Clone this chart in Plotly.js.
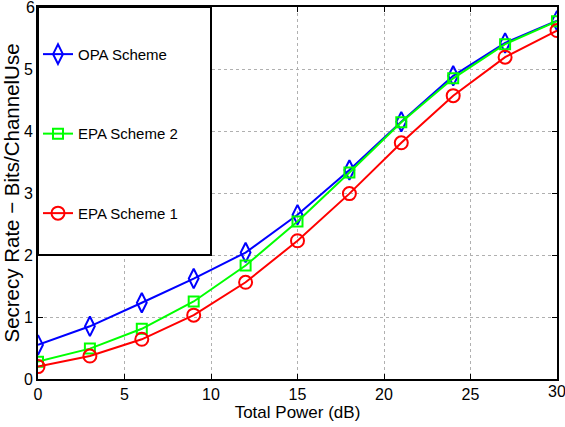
<!DOCTYPE html>
<html>
<head>
<meta charset="utf-8">
<script src="https://cdn.plot.ly/plotly-3.0.1.min.js"></script>
<style>html,body{margin:0;padding:0;background:#fff}#chart{width:565px;height:427px}</style>
</head>
<body>
<div id="chart"></div>
<script>
var totalPower = [0, 3, 6, 9, 12, 15, 18, 21, 24, 27, 30];
var opaScheme = [0.55, 0.85, 1.23, 1.62, 2.04, 2.65, 3.37, 4.15, 4.89, 5.42, 5.78];
var epaScheme2 = [0.28, 0.49, 0.81, 1.25, 1.83, 2.54, 3.33, 4.14, 4.85, 5.40, 5.77];
var epaScheme1 = [0.20, 0.37, 0.64, 1.03, 1.56, 2.23, 2.99, 3.81, 4.57, 5.19, 5.62];
var seriesNames = ["OPA Scheme", "EPA Scheme 2", "EPA Scheme 1"];
var xTickVals = [0, 5, 10, 15, 20, 25, 30];
var yTickVals = [0, 1, 2, 3, 4, 5, 6];

var font = "Liberation Sans, Arial, Helvetica, sans-serif";
var tickSize = 16;
var traces = [
  {x: totalPower, y: opaScheme, name: seriesNames[0], legendgroup: "a", type: "scatter", mode: "lines+markers",
   line: {color: "#0000ff", width: 2}, marker: {symbol: "diamond-tall-open", size: 14, color: "#0000ff", line: {width: 2, color: "#0000ff"}}},
  {x: totalPower, y: epaScheme2, name: seriesNames[1], legendgroup: "b", type: "scatter", mode: "lines+markers",
   line: {color: "#00ff00", width: 2}, marker: {symbol: "square-open", size: 10, color: "#00ff00", line: {width: 2, color: "#00ff00"}}},
  {x: totalPower, y: epaScheme1, name: seriesNames[2], legendgroup: "c", type: "scatter", mode: "lines+markers",
   line: {color: "#ff0000", width: 2}, marker: {symbol: "circle-open", size: 13, color: "#ff0000", line: {width: 2, color: "#ff0000"}}}
];

// edge tick labels (Plotly hides labels that cross the page edge)
var xLast = xTickVals[xTickVals.length - 1];
var yLast = yTickVals[yTickVals.length - 1];
var annotations = [
  {x: xLast, xref: "x", y: 0, yref: "paper", yanchor: "top", xanchor: "center", yshift: -2, showarrow: false,
   text: String(xLast), font: {family: font, size: tickSize, color: "#000"}},
  {x: 0, xref: "paper", y: yLast, yref: "y", xanchor: "right", yanchor: "middle", xshift: -1, showarrow: false,
   text: String(yLast), font: {family: font, size: tickSize, color: "#000"}}
];

var layout = {
  width: 565, height: 427,
  margin: {l: 38, r: 8, t: 7, b: 48},
  paper_bgcolor: "#fff", plot_bgcolor: "#fff",
  font: {family: font, size: 14, color: "#000"},
  showlegend: true,
  legend: {x: 0.0, y: 0.917, xanchor: "left", yanchor: "top", bgcolor: "rgba(0,0,0,0)", borderwidth: 0,
           font: {family: font, size: 15, color: "#000"}, traceorder: "grouped", tracegroupgap: 57, itemwidth: 30},
  xaxis: {range: [0, 30], tickvals: xTickVals, showgrid: true, gridcolor: "#b0b0b0", griddash: "dot", gridwidth: 1,
          zeroline: false, showline: true, linecolor: "#000", linewidth: 2, mirror: "ticks", ticks: "inside", ticklen: 5, tickwidth: 1, tickcolor: "#000",
          tickfont: {size: tickSize}, title: {text: "Total Power (dB)", font: {size: 17}, standoff: 2}},
  yaxis: {range: [0, 6], tickvals: yTickVals, showgrid: true, gridcolor: "#b0b0b0", griddash: "dot", gridwidth: 1,
          zeroline: false, showline: true, linecolor: "#000", linewidth: 2, mirror: "ticks", ticks: "inside", ticklen: 5, tickwidth: 1, tickcolor: "#000",
          tickfont: {size: tickSize}, title: {text: "Secrecy Rate \u2212 Bits/ChannelUse", font: {size: 20.5}, standoff: 4}},
  annotations: annotations,
  shapes: [{type: "rect", xref: "x", yref: "y", x0: 0, x1: 10, y0: 2, y1: 6, layer: "above",
            fillcolor: "#fff", line: {color: "#000", width: 2}}]
};

Plotly.newPlot("chart", traces, layout, {displayModeBar: false, staticPlot: true});
</script>
</body>
</html>
